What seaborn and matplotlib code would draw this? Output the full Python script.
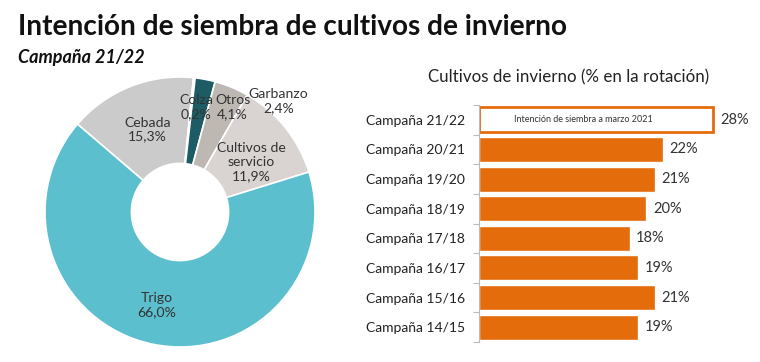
import matplotlib
matplotlib.use('Agg')
import matplotlib.pyplot as plt
import seaborn as sns

# datos del anillo (orden horario desde Cebada)
cultivos = ['Cebada', 'Colza', 'Garbanzo', 'Otros', 'Cultivos de\nservicio', 'Trigo']
porcentajes = [15.3, 0.2, 2.4, 4.1, 11.9, 66.0]
etiquetas = ['15,3%', '0,2%', '2,4%', '4,1%', '11,9%', '66,0%']

# datos de las barras
campanas = ['Campaña 21/22', 'Campaña 20/21', 'Campaña 19/20', 'Campaña 18/19',
            'Campaña 17/18', 'Campaña 16/17', 'Campaña 15/16', 'Campaña 14/15']
rotacion = [28, 22, 21, 20, 18, 19, 21, 19]

colores_anillo = ['#CBCBCB', '#E4E4E4', '#1D5C64', '#BEB8B3', '#D9D4D1', '#5BBFCE']
naranja = '#E46C0A'

sns.set_theme(style='white')
plt.rcParams['font.family'] = ['Lato', 'DejaVu Sans']

fig = plt.figure(figsize=(7.6, 3.62), dpi=100)

fig.text(18 / 760, 1 - 35 / 362, 'Intención de siembra de cultivos de invierno',
         fontsize=20.2, fontweight='bold', color='#111111')
fig.text(18 / 760, 1 - 63 / 362, 'Campaña 21/22', fontsize=13,
         fontweight='bold', style='italic', color='#111111')

# anillo
ax1 = fig.add_axes([45 / 760, 15 / 362, 270 / 760, 270 / 362])
ax1.pie(porcentajes, colors=colores_anillo, startangle=139.4, counterclock=False,
        wedgeprops=dict(width=0.64, edgecolor='white', linewidth=1.2))
ax1.set_xlim(-1, 1)
ax1.set_ylim(-1, 1)
ax1.set_aspect('equal')

# posiciones de etiquetas como en el original
pos_etiquetas = {
    'Cebada': (-0.24, 0.61),
    'Colza': (0.12, 0.78),
    'Garbanzo': (0.73, 0.82),
    'Otros': (0.39, 0.78),
    'Cultivos de\nservicio': (0.53, 0.37),
    'Trigo': (-0.17, -0.69),
}
for nombre, etq in zip(cultivos, etiquetas):
    x, y = pos_etiquetas[nombre]
    ax1.text(x, y, nombre + '\n' + etq, ha='center', va='center', fontsize=10.1,
             color='#333333', linespacing=1.2)

# barras
ax2 = fig.add_axes([479 / 760, 20 / 362, 276 / 760, 237 / 362])
sns.barplot(x=rotacion, y=campanas, orient='h', color=naranja, saturation=1,
            width=0.84, ax=ax2)
primera = ax2.patches[0]
primera.set_facecolor('white')
primera.set_edgecolor(naranja)
primera.set_linewidth(2)
ax2.text(rotacion[0] * 0.445, 0, 'Intención de siembra a marzo 2021', ha='center',
         va='center', fontsize=6.5, color='#333333')
for i, v in enumerate(rotacion):
    ax2.text(v + 0.8, i, f'{v}%', va='center', ha='left', fontsize=10.5, color='#333333')

ax2.set_xlim(0, 33)
ax2.set_ylim(7.5, -0.5)
ax2.set_xticks([])
ax2.set_xlabel('')
ax2.set_ylabel('')
ax2.set_yticks([i - 0.5 for i in range(9)], minor=True)
ax2.tick_params(axis='y', which='major', length=0, pad=10, labelsize=10, labelcolor='#222222')
ax2.tick_params(axis='y', which='minor', length=4, width=0.8, color='#BBBBBB', left=True)
for s in ['top', 'right', 'bottom']:
    ax2.spines[s].set_visible(False)
ax2.spines['left'].set_color('#BBBBBB')
ax2.spines['left'].set_linewidth(0.8)

fig.text(569 / 760, 1 - 77 / 362, 'Cultivos de invierno (% en la rotación)', ha='center',
         va='center', fontsize=12.2, color='#222222')

fig.savefig('out.png', dpi=100)
